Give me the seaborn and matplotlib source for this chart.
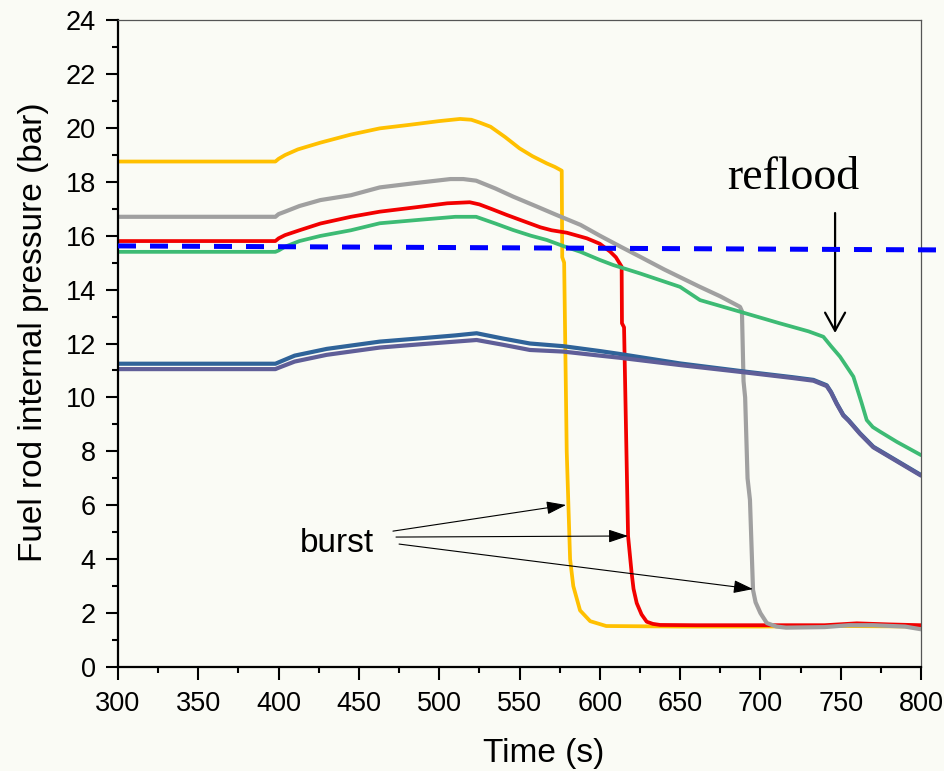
import numpy as np
import pandas as pd
import matplotlib
matplotlib.use("Agg")
import matplotlib.pyplot as plt
import seaborn as sns

# ---------------- data ----------------
yellow_t = [300, 398, 400, 404, 412, 426, 445, 463, 480, 500, 513, 520, 525, 532, 541, 550, 558, 567, 572,
            576.3, 576.6, 577.8, 579.4, 581.5, 583.5, 587.7, 594, 604, 650, 700, 750, 800]
yellow_p = [18.75, 18.75, 18.85, 18.99, 19.2, 19.45, 19.75, 19.98, 20.1, 20.25, 20.33, 20.3, 20.2, 20.04, 19.66,
            19.24, 18.95, 18.68, 18.55, 18.41, 15.2, 15.0, 8.0, 4.0, 3.0, 2.1, 1.7, 1.52, 1.5, 1.5, 1.52, 1.5]

red_t = [300, 398, 400, 404, 413, 426, 445, 463, 485, 505, 519, 525, 533, 542, 552, 563, 570, 579.4, 592, 600,
         606.4, 610, 613.6, 613.8, 615.1, 617.6, 619.8, 621, 623, 626, 629.2, 633, 637.5, 660, 700, 740, 760, 780, 800]
red_p = [15.8, 15.8, 15.9, 16.02, 16.2, 16.45, 16.7, 16.89, 17.05, 17.2, 17.24, 17.16, 16.98, 16.77, 16.55, 16.31,
         16.2, 16.11, 15.9, 15.7, 15.41, 15.2, 14.85, 12.75, 12.6, 4.86, 3.5, 2.9, 2.37, 1.95, 1.68, 1.6, 1.56,
         1.55, 1.55, 1.55, 1.62, 1.58, 1.55]

gray_t = [300, 398, 400, 404, 413, 426, 445, 463, 485, 507, 515, 523, 535, 546, 560, 573, 588, 600, 613, 625, 640,
          662, 675, 687.3, 688.5, 689.5, 690.5, 692, 693.5, 695.4, 697, 700, 704, 710, 716, 740, 755, 770, 790, 800]
gray_p = [16.7, 16.7, 16.8, 16.89, 17.1, 17.32, 17.5, 17.79, 17.95, 18.1, 18.1, 18.04, 17.75, 17.45, 17.1, 16.77,
          16.4, 16.0, 15.59, 15.22, 14.75, 14.11, 13.75, 13.36, 13.2, 10.6, 10.0, 7.0, 6.2, 2.86, 2.4, 2.0, 1.63,
          1.5, 1.46, 1.48, 1.55, 1.55, 1.5, 1.4]

green_t = [300, 398, 400, 404, 413, 426, 445, 463, 490, 510, 523, 535, 546, 557, 567, 577, 588, 600, 608.4, 625,
           650, 662.4, 687.3, 712, 730, 739.2, 744, 749.6, 757.9, 763, 766.2, 770, 774.5, 785, 800]
green_p = [15.4, 15.4, 15.45, 15.59, 15.8, 15.99, 16.2, 16.46, 16.6, 16.7, 16.7, 16.45, 16.21, 16.0, 15.84, 15.62,
           15.4, 15.1, 14.91, 14.6, 14.1, 13.61, 13.18, 12.75, 12.45, 12.25, 11.9, 11.51, 10.77, 9.8, 9.16, 8.9,
           8.73, 8.35, 7.86]

blue_t = [300, 398, 400, 410, 430, 463, 490, 510, 523.3, 540, 556.5, 577.3, 600, 612.6, 650, 691.5, 720, 733,
          741.3, 744, 747.5, 751.6, 755, 762, 770.3, 785, 800]
blue_p = [11.25, 11.25, 11.3, 11.55, 11.8, 12.07, 12.2, 12.3, 12.38, 12.18, 12.0, 11.9, 11.72, 11.61, 11.26, 10.95,
          10.75, 10.65, 10.45, 10.2, 9.78, 9.35, 9.15, 8.67, 8.17, 7.65, 7.12]

purple_t = blue_t
purple_p = [11.05, 11.05, 11.1, 11.33, 11.58, 11.85, 11.98, 12.07, 12.13, 11.95, 11.76, 11.7, 11.55, 11.47, 11.2,
            10.92, 10.72, 10.62, 10.42, 10.18, 9.76, 9.33, 9.13, 8.65, 8.15, 7.63, 7.1]

limit_t = [300, 815]
limit_p = [15.62, 15.47]

x_ticks = [300, 350, 400, 450, 500, 550, 600, 650, 700, 750, 800]
y_ticks = [0, 2, 4, 6, 8, 10, 12, 14, 16, 18, 20, 22, 24]

series_names = ["yellow", "red", "gray", "green", "blue", "purple"]
palette = {"yellow": "#FFC000", "red": "#F20000", "gray": "#A0A0A0",
           "green": "#3DBB74", "blue": "#2F6399", "purple": "#5F5E98"}
widths = {"yellow": 2.7, "red": 2.7, "gray": 3.0, "green": 2.7, "blue": 3.0, "purple": 3.0}

# ---------------- build long table ----------------
frames = []
for name, t, p in [("yellow", yellow_t, yellow_p), ("red", red_t, red_p), ("gray", gray_t, gray_p),
                   ("green", green_t, green_p), ("blue", blue_t, blue_p), ("purple", purple_t, purple_p)]:
    frames.append(pd.DataFrame({"Time": t, "Pressure": p, "series": name}))
df = pd.concat(frames, ignore_index=True)

# ---------------- style ----------------
sns.set_style("ticks")
bg = "#FAFBF5"
plt.rcParams["font.family"] = ["Liberation Sans", "DejaVu Sans"]

fig = plt.figure(figsize=(9.45, 7.71), dpi=100, facecolor=bg)
ax = fig.add_axes([118 / 945, 104 / 771, 803 / 945, 647 / 771])
ax.set_facecolor(bg)

for name in series_names:
    sub = df[df["series"] == name]
    sns.lineplot(data=sub, x="Time", y="Pressure", color=palette[name], linewidth=widths[name],
                 sort=False, estimator=None, ax=ax, legend=False)

ax.plot(limit_t, limit_p, color="#0000FF", linewidth=3.6, dashes=(3.6, 2.8),
        clip_on=False, zorder=5)

ax.set_xlim(300, 800)
ax.set_ylim(0, 24)
ax.set_xticks(x_ticks)
ax.set_yticks(y_ticks)
ax.set_xticks([t + 25 for t in x_ticks[:-1]], minor=True)
ax.set_yticks([v + 1 for v in y_ticks[:-1]], minor=True)

ax.tick_params(axis="both", which="major", direction="out", length=9, width=1.5,
               labelsize=19.5, color="black", labelcolor="black")
ax.tick_params(axis="both", which="minor", direction="out", length=4.5, width=1.5, color="black")
ax.tick_params(axis="y", which="major", pad=7)
ax.tick_params(axis="x", which="major", pad=8)
ax.tick_params(top=False, right=False, which="both")

for s in ["left", "bottom"]:
    ax.spines[s].set_color("black")
    ax.spines[s].set_linewidth(1.6)
for s in ["top", "right"]:
    ax.spines[s].set_visible(True)
    ax.spines[s].set_color("#555555")
    ax.spines[s].set_linewidth(0.9)

ax.set_xlabel("Time (s)", fontsize=24, color="black")
ax.set_ylabel("Fuel rod internal pressure (bar)", fontsize=24, color="black")
ax.xaxis.set_label_coords(0.5305, -0.109)
ax.yaxis.set_label_coords(-0.086, 0.518)

# annotations
ax.text(720.5, 17.73, "reflood", fontsize=33, family=["Liberation Serif", "DejaVu Serif"],
        ha="center", va="baseline", color="black")
ax.annotate("", xy=(746.5, 12.39), xytext=(746.5, 16.84),
            arrowprops=dict(arrowstyle="->,head_length=0.65,head_width=0.36", color="black",
                            lw=1.6, mutation_scale=20, shrinkA=0, shrinkB=0))

ax.text(436.4, 4.28, "burst", fontsize=24, ha="center", va="baseline", color="black")
burst_starts = [(471.2, 5.04), (473.1, 4.82), (475.0, 4.56)]
burst_ends = [(579.0, 6.01), (617.6, 4.86), (695.4, 2.89)]
for (sx, sy), (ex, ey) in zip(burst_starts, burst_ends):
    ax.annotate("", xy=(ex, ey), xytext=(sx, sy),
                arrowprops=dict(arrowstyle="-|>,head_length=0.6,head_width=0.2", color="black",
                                lw=0.8, mutation_scale=20, shrinkA=0, shrinkB=0))

fig.savefig("out.png", dpi=100, facecolor=bg)
